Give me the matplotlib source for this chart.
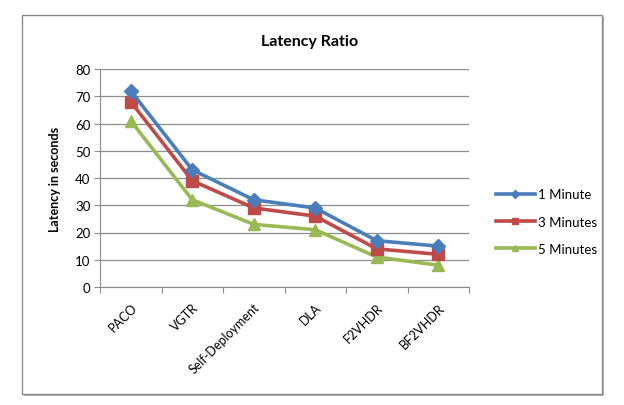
import matplotlib
matplotlib.use("Agg")
import matplotlib.pyplot as plt
from matplotlib.patches import Rectangle

plt.rcParams['font.family'] = ['Lato', 'DejaVu Sans']

methods = ['PACO', 'VGTR', 'Self-Deployment', 'DLA', 'F2VHDR', 'BF2VHDR']
one_min = [72, 43, 32, 29, 17, 15]
three_min = [68, 39, 29, 26, 14, 12]
five_min = [61, 32, 23, 21, 11, 8]
y_ticks = [0, 10, 20, 30, 40, 50, 60, 70, 80]

fig = plt.figure(figsize=(6.24, 4.06), dpi=100)

# chart border with a little shadow, like the Excel frame
fig.patches.append(Rectangle((24 / 624, 1 - 397 / 406), 580 / 624, 379 / 406,
                             transform=fig.transFigure, facecolor='#b0b0b0',
                             edgecolor='none', zorder=-3))
fig.patches.append(Rectangle((22 / 624, 1 - 395 / 406), 580 / 624, 379 / 406,
                             transform=fig.transFigure, facecolor='white',
                             edgecolor='#8c8c8c', linewidth=1.0, zorder=-2))

ax = fig.add_axes([100 / 624, 1 - 288 / 406, 369 / 624, 218 / 406])
ax.patch.set_alpha(0)
x = list(range(len(methods)))

ax.plot(x, one_min, color='#4a7ebb', lw=2.6, marker='D', ms=7.5, label='1 Minute', zorder=5)
ax.plot(x, three_min, color='#be4b48', lw=2.6, marker='s', ms=8, label='3 Minutes', zorder=4)
ax.plot(x, five_min, color='#98b954', lw=2.6, marker='^', ms=9, label='5 Minutes', zorder=3)

ax.set_xlim(-0.5, len(methods) - 0.5)
ax.set_ylim(0, 80)
ax.set_yticks(y_ticks)
ax.set_yticklabels([str(v) for v in y_ticks], fontsize=9.5)
ax.yaxis.grid(True, color='#8c8c8c', lw=0.9)
ax.set_axisbelow(True)

# category ticks sit between categories, labels at the centres
ax.set_xticks([i - 0.5 for i in range(len(methods) + 1)])
ax.set_xticklabels([])
ax.set_xticks(x, minor=True)
ax.set_xticklabels(methods, minor=True, rotation=45, ha='right', va='top',
                   rotation_mode='anchor', fontsize=9)
ax.tick_params(axis='x', which='minor', length=0, pad=10)
ax.tick_params(axis='x', which='major', length=4, color='#8c8c8c', direction='out')
ax.tick_params(axis='y', length=4, color='#8c8c8c', direction='out', pad=3)

for side in ['top', 'right']:
    ax.spines[side].set_visible(False)
ax.spines['left'].set_color('#8c8c8c')
ax.spines['bottom'].set_color('#8c8c8c')

ax.set_ylabel('Latency in seconds', fontsize=9, fontweight='bold', labelpad=10)
fig.text(310 / 624, 1 - 42 / 406, 'Latency Ratio', ha='center', va='center',
         fontsize=11.5, fontweight='bold')

ax.legend(loc='center left', bbox_to_anchor=(1.04, 0.30), frameon=False,
          fontsize=9.5, handlelength=3, labelspacing=1.15, handletextpad=0.2,
          markerscale=0.55)

fig.savefig('out.png', dpi=100)
